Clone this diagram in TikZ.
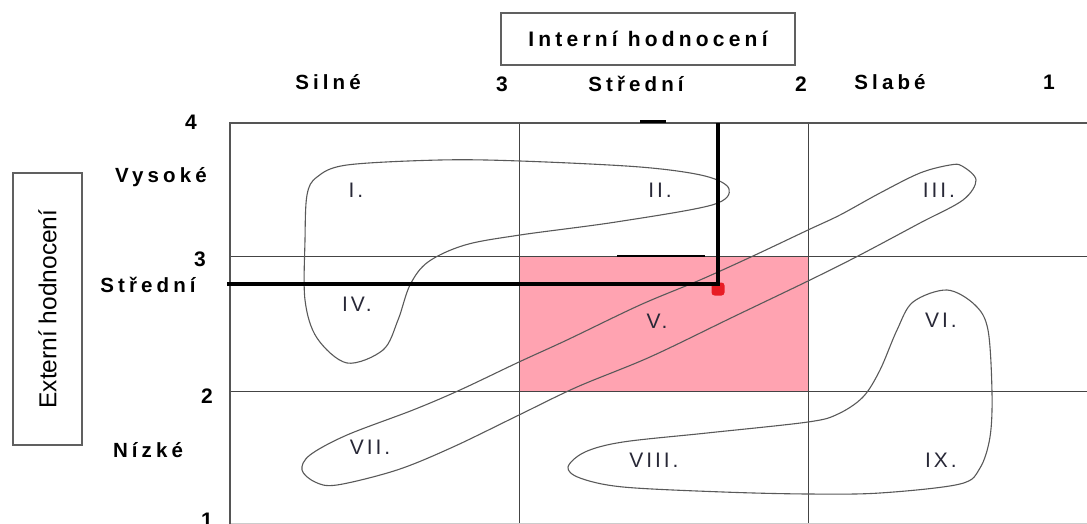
\documentclass[tikz,border=0pt]{standalone}
\usepackage{fontspec}
\setmainfont{Liberation Sans}
\newfontfamily\spacedfont[LetterSpace=20]{Liberation Sans}
\newfontfamily\zonefont[LetterSpace=14]{Liberation Sans}
\usetikzlibrary{positioning}
\definecolor{cellpink}{RGB}{255,163,177}
\definecolor{dotred}{RGB}{232,28,36}
\definecolor{gridgray}{RGB}{85,85,85}
\definecolor{zonetext}{RGB}{40,40,55}

\begin{document}
\begin{tikzpicture}[x=1pt, y=-1pt,
    titlebox/.style={rectangle, draw=gray!75!black, line width=1.3pt, inner sep=0pt},
    axislbl/.style={font=\spacedfont\bfseries\fontsize{20.5}{22}\selectfont, inner sep=0pt},
    numlbl/.style={font=\bfseries\fontsize{21}{23}\selectfont, inner sep=0pt},
    zonelbl/.style={font=\zonefont\fontsize{21}{23}\selectfont, text=zonetext, inner sep=0pt},
    outerline/.style={draw=gridgray, line width=1.6pt},
    gridline/.style={draw=gridgray!80!black, line width=1pt},
    zone/.style={draw=gray!70!black, line width=1.1pt},
    thickline/.style={line width=4pt, black},
    reddot/.style={rectangle, rounded corners=3pt, fill=dotred, minimum size=13pt, inner sep=0pt},
]
\useasboundingbox (0,0) rectangle (1087,524);

% highlighted cell
\fill[cellpink] (519,256) rectangle (808,391);

% grid
\draw[gridline] (230,256) -- (1087,256);
\draw[gridline] (230,391) -- (1087,391);
\draw[gridline] (519,123) -- (519,524);
\draw[gridline] (808,123) -- (808,524);
\draw[gray!40, line width=1pt] (230,523) -- (1087,523);
\draw[outerline] (1087,123) -- (230,123) -- (230,524);
\draw[line width=1.8pt] (617,256) -- (705,256);
\draw[line width=3pt] (640,122) -- (666,122);

% zones
\draw[zone] plot[smooth cycle, tension=0.55] coordinates {
  (305,240) (307,195) (317,177) (347,165) (440,160) (520,161) (640,167)
  (705,176) (729,189) (712,205) (616,222) (520,235) (465,245) (428,262)
  (410,285) (398,320) (383,350) (347,363) (317,338) (305,300)};
\draw[zone] plot[smooth cycle, tension=0.55] coordinates {
  (976,180) (962,166) (950,165) (920,173) (880,193) (840,215) (808,230)
  (753,256) (700,280) (640,305) (567,340) (519,362) (460,390) (413,410)
  (347,435) (310,455) (302,470) (315,482) (337,485) (397,470) (453,447)
  (519,415) (577,387) (650,357) (733,317) (808,281) (858,256) (920,223)
  (963,200)};
\draw[zone] plot[smooth cycle, tension=0.55] coordinates {
  (947,290) (975,305) (988,330) (992,393) (990,437) (980,468) (960,484)
  (880,493) (808,494) (723,492) (623,487) (580,478) (568,467) (585,452)
  (623,442) (707,433) (808,422) (838,414) (863,397) (880,370) (897,330)
  (913,302)};

\node[zonelbl] (z1) at (356,190) {I.};
\node[zonelbl] (z2) at (660,190) {II.};
\node[zonelbl] (z3) at (939,190) {III.};
\node[zonelbl] (z4) at (357,304) {IV.};
\node[zonelbl] (z5) at (657,321) {V.};
\node[zonelbl] (z6) at (941,320) {VI.};
\node[zonelbl] (z7) at (370,447) {VII.};
\node[zonelbl] (z8) at (654,460) {VIII.};
\node[zonelbl] (z9) at (941,460) {IX.};

% position of the firm
\coordinate (hstart) at (227,284);
\coordinate (vtop) at (718,123);
\coordinate (corner) at (718,284);
\node[reddot] (pos) at (718,289) {};
\draw[thickline] (hstart) -- (corner) -- (vtop);

% axis boxes
\node[titlebox, minimum width=294pt, minimum height=52pt, font=\spacedfont\bfseries\fontsize{21}{23}\selectfont] (intbox) at (648,39) {Interní hodnocení};
\node[titlebox, rotate=90, minimum width=272pt, minimum height=69pt, font=\fontsize{24.5}{26}\selectfont] (extbox) at (47.5,309) {Externí hodnocení};

% top scale
\node[axislbl] (silne) at (328,82) {Silné};
\node[numlbl] (t3) at (502,84) {3};
\node[axislbl] (stredni) at (636,84) {Střední};
\node[numlbl] (t2) at (801,84) {2};
\node[axislbl] (slabe) at (890,82) {Slabé};
\node[numlbl] (t1) at (1049,82) {1};

% left scale
\node[numlbl] (l4) at (191,122) {4};
\node[axislbl] (vysoke) at (161,177) {Vysoké};
\node[numlbl] (l3) at (200,259) {3};
\node[axislbl] (ext-stredni) at (148,285) {Střední};
\node[numlbl] (l2) at (207,396) {2};
\node[axislbl] (nizke) at (148,450) {Nízké};
\node[numlbl] (l1) at (207,520) {1};
\end{tikzpicture}
\end{document}
